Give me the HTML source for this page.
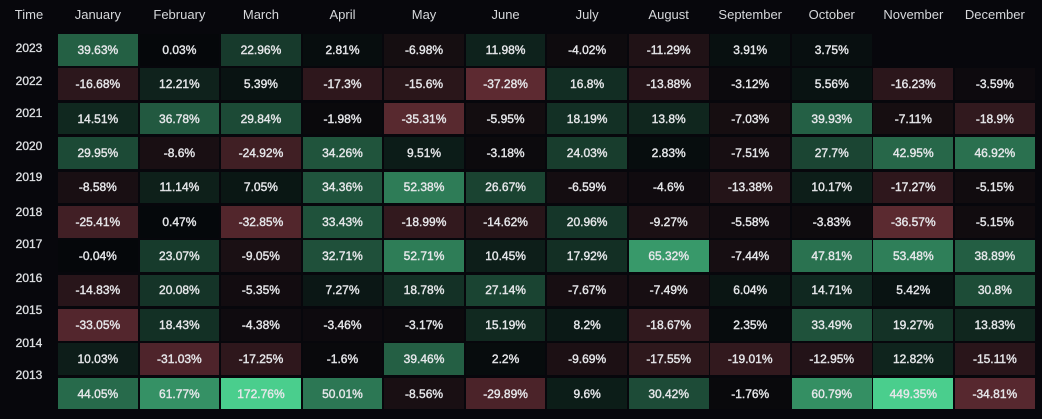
<!DOCTYPE html>
<html>
<head>
<meta charset="utf-8">
<style>
  html,body{margin:0;padding:0;}
  body{width:1042px;height:419px;background:#07070c;position:relative;overflow:hidden;
       font-family:"Liberation Sans",Arial,sans-serif;}
  .hdr{position:absolute;top:0;left:58px;display:grid;
       grid-template-columns:repeat(12,79.7px);column-gap:1.87px;}
  .hdr div{height:30px;line-height:30px;text-align:center;font-size:13px;color:#d6d8db;}
  .time{position:absolute;left:0;width:58px;top:0;height:30px;line-height:30px;text-align:center;
        font-size:13px;color:#d6d8db;}
  .yr{position:absolute;left:0;width:58px;text-align:center;font-size:12px;line-height:14px;
      height:14px;color:#dfe1e4;-webkit-text-stroke:0.3px #dfe1e4;}
  .grid{position:absolute;left:58px;top:34px;display:grid;
        grid-template-columns:repeat(12,79.7px);column-gap:1.87px;
        grid-template-rows:repeat(11,31.7px);row-gap:2.7px;}
  .c{display:flex;align-items:center;justify-content:center;font-size:12px;color:#e6e7ea;
     -webkit-text-stroke:0.4px #e6e7ea;}
  .p{background:rgb(calc(5 + 0.78 * min(var(--v),89)) calc(7 + 2.24 * min(var(--v),89)) calc(10 + 1.47 * min(var(--v),89)));}
  .n{background:rgb(calc(5 + 2.35 * min(var(--v),60)) calc(7 + 0.95 * min(var(--v),60)) calc(10 + 1.05 * min(var(--v),60)));}
</style>
</head>
<body>
<div class="time">Time</div>
<div class="hdr">
  <div>January</div><div>February</div><div>March</div><div>April</div><div>May</div><div>June</div>
  <div>July</div><div>August</div><div>September</div><div>October</div><div>November</div><div>December</div>
</div>

<div class="yr" style="top:40.7px">2023</div>
<div class="yr" style="top:73.7px">2022</div>
<div class="yr" style="top:106.3px">2021</div>
<div class="yr" style="top:138.7px">2020</div>
<div class="yr" style="top:170.3px">2019</div>
<div class="yr" style="top:204.7px">2018</div>
<div class="yr" style="top:237.3px">2017</div>
<div class="yr" style="top:271px">2016</div>
<div class="yr" style="top:302.7px">2015</div>
<div class="yr" style="top:336px">2014</div>
<div class="yr" style="top:368px">2013</div>

<div class="grid">
  <!-- 2023 -->
  <div class="c p" style="--v:39.63">39.63%</div>
  <div class="c p" style="--v:0.03">0.03%</div>
  <div class="c p" style="--v:22.96">22.96%</div>
  <div class="c p" style="--v:2.81">2.81%</div>
  <div class="c n" style="--v:6.98">-6.98%</div>
  <div class="c p" style="--v:11.98">11.98%</div>
  <div class="c n" style="--v:4.02">-4.02%</div>
  <div class="c n" style="--v:11.29">-11.29%</div>
  <div class="c p" style="--v:3.91">3.91%</div>
  <div class="c p" style="--v:3.75">3.75%</div>
  <div></div>
  <div></div>
  <!-- 2022 -->
  <div class="c n" style="--v:16.68">-16.68%</div>
  <div class="c p" style="--v:12.21">12.21%</div>
  <div class="c p" style="--v:5.39">5.39%</div>
  <div class="c n" style="--v:17.3">-17.3%</div>
  <div class="c n" style="--v:15.6">-15.6%</div>
  <div class="c n" style="--v:37.28">-37.28%</div>
  <div class="c p" style="--v:16.8">16.8%</div>
  <div class="c n" style="--v:13.88">-13.88%</div>
  <div class="c n" style="--v:3.12">-3.12%</div>
  <div class="c p" style="--v:5.56">5.56%</div>
  <div class="c n" style="--v:16.23">-16.23%</div>
  <div class="c n" style="--v:3.59">-3.59%</div>
  <!-- 2021 -->
  <div class="c p" style="--v:14.51">14.51%</div>
  <div class="c p" style="--v:36.78">36.78%</div>
  <div class="c p" style="--v:29.84">29.84%</div>
  <div class="c n" style="--v:1.98">-1.98%</div>
  <div class="c n" style="--v:35.31">-35.31%</div>
  <div class="c n" style="--v:5.95">-5.95%</div>
  <div class="c p" style="--v:18.19">18.19%</div>
  <div class="c p" style="--v:13.8">13.8%</div>
  <div class="c n" style="--v:7.03">-7.03%</div>
  <div class="c p" style="--v:39.93">39.93%</div>
  <div class="c n" style="--v:7.11">-7.11%</div>
  <div class="c n" style="--v:18.9">-18.9%</div>
  <!-- 2020 -->
  <div class="c p" style="--v:29.95">29.95%</div>
  <div class="c n" style="--v:8.6">-8.6%</div>
  <div class="c n" style="--v:24.92">-24.92%</div>
  <div class="c p" style="--v:34.26">34.26%</div>
  <div class="c p" style="--v:9.51">9.51%</div>
  <div class="c n" style="--v:3.18">-3.18%</div>
  <div class="c p" style="--v:24.03">24.03%</div>
  <div class="c p" style="--v:2.83">2.83%</div>
  <div class="c n" style="--v:7.51">-7.51%</div>
  <div class="c p" style="--v:27.7">27.7%</div>
  <div class="c p" style="--v:42.95">42.95%</div>
  <div class="c p" style="--v:46.92">46.92%</div>
  <!-- 2019 -->
  <div class="c n" style="--v:8.58">-8.58%</div>
  <div class="c p" style="--v:11.14">11.14%</div>
  <div class="c p" style="--v:7.05">7.05%</div>
  <div class="c p" style="--v:34.36">34.36%</div>
  <div class="c p" style="--v:52.38">52.38%</div>
  <div class="c p" style="--v:26.67">26.67%</div>
  <div class="c n" style="--v:6.59">-6.59%</div>
  <div class="c n" style="--v:4.6">-4.6%</div>
  <div class="c n" style="--v:13.38">-13.38%</div>
  <div class="c p" style="--v:10.17">10.17%</div>
  <div class="c n" style="--v:17.27">-17.27%</div>
  <div class="c n" style="--v:5.15">-5.15%</div>
  <!-- 2018 -->
  <div class="c n" style="--v:25.41">-25.41%</div>
  <div class="c p" style="--v:0.47">0.47%</div>
  <div class="c n" style="--v:32.85">-32.85%</div>
  <div class="c p" style="--v:33.43">33.43%</div>
  <div class="c n" style="--v:18.99">-18.99%</div>
  <div class="c n" style="--v:14.62">-14.62%</div>
  <div class="c p" style="--v:20.96">20.96%</div>
  <div class="c n" style="--v:9.27">-9.27%</div>
  <div class="c n" style="--v:5.58">-5.58%</div>
  <div class="c n" style="--v:3.83">-3.83%</div>
  <div class="c n" style="--v:36.57">-36.57%</div>
  <div class="c n" style="--v:5.15">-5.15%</div>
  <!-- 2017 -->
  <div class="c n" style="--v:0.04">-0.04%</div>
  <div class="c p" style="--v:23.07">23.07%</div>
  <div class="c n" style="--v:9.05">-9.05%</div>
  <div class="c p" style="--v:32.71">32.71%</div>
  <div class="c p" style="--v:52.71">52.71%</div>
  <div class="c p" style="--v:10.45">10.45%</div>
  <div class="c p" style="--v:17.92">17.92%</div>
  <div class="c p" style="--v:65.32">65.32%</div>
  <div class="c n" style="--v:7.44">-7.44%</div>
  <div class="c p" style="--v:47.81">47.81%</div>
  <div class="c p" style="--v:53.48">53.48%</div>
  <div class="c p" style="--v:38.89">38.89%</div>
  <!-- 2016 -->
  <div class="c n" style="--v:14.83">-14.83%</div>
  <div class="c p" style="--v:20.08">20.08%</div>
  <div class="c n" style="--v:5.35">-5.35%</div>
  <div class="c p" style="--v:7.27">7.27%</div>
  <div class="c p" style="--v:18.78">18.78%</div>
  <div class="c p" style="--v:27.14">27.14%</div>
  <div class="c n" style="--v:7.67">-7.67%</div>
  <div class="c n" style="--v:7.49">-7.49%</div>
  <div class="c p" style="--v:6.04">6.04%</div>
  <div class="c p" style="--v:14.71">14.71%</div>
  <div class="c p" style="--v:5.42">5.42%</div>
  <div class="c p" style="--v:30.8">30.8%</div>
  <!-- 2015 -->
  <div class="c n" style="--v:33.05">-33.05%</div>
  <div class="c p" style="--v:18.43">18.43%</div>
  <div class="c n" style="--v:4.38">-4.38%</div>
  <div class="c n" style="--v:3.46">-3.46%</div>
  <div class="c n" style="--v:3.17">-3.17%</div>
  <div class="c p" style="--v:15.19">15.19%</div>
  <div class="c p" style="--v:8.2">8.2%</div>
  <div class="c n" style="--v:18.67">-18.67%</div>
  <div class="c p" style="--v:2.35">2.35%</div>
  <div class="c p" style="--v:33.49">33.49%</div>
  <div class="c p" style="--v:19.27">19.27%</div>
  <div class="c p" style="--v:13.83">13.83%</div>
  <!-- 2014 -->
  <div class="c p" style="--v:10.03">10.03%</div>
  <div class="c n" style="--v:31.03">-31.03%</div>
  <div class="c n" style="--v:17.25">-17.25%</div>
  <div class="c n" style="--v:1.6">-1.6%</div>
  <div class="c p" style="--v:39.46">39.46%</div>
  <div class="c p" style="--v:2.2">2.2%</div>
  <div class="c n" style="--v:9.69">-9.69%</div>
  <div class="c n" style="--v:17.55">-17.55%</div>
  <div class="c n" style="--v:19.01">-19.01%</div>
  <div class="c n" style="--v:12.95">-12.95%</div>
  <div class="c p" style="--v:12.82">12.82%</div>
  <div class="c n" style="--v:15.11">-15.11%</div>
  <!-- 2013 -->
  <div class="c p" style="--v:44.05">44.05%</div>
  <div class="c p" style="--v:61.77">61.77%</div>
  <div class="c p" style="--v:172.76">172.76%</div>
  <div class="c p" style="--v:50.01">50.01%</div>
  <div class="c n" style="--v:8.56">-8.56%</div>
  <div class="c n" style="--v:29.89">-29.89%</div>
  <div class="c p" style="--v:9.6">9.6%</div>
  <div class="c p" style="--v:30.42">30.42%</div>
  <div class="c n" style="--v:1.76">-1.76%</div>
  <div class="c p" style="--v:60.79">60.79%</div>
  <div class="c p" style="--v:449.35">449.35%</div>
  <div class="c n" style="--v:34.81">-34.81%</div>
</div>
</body>
</html>
